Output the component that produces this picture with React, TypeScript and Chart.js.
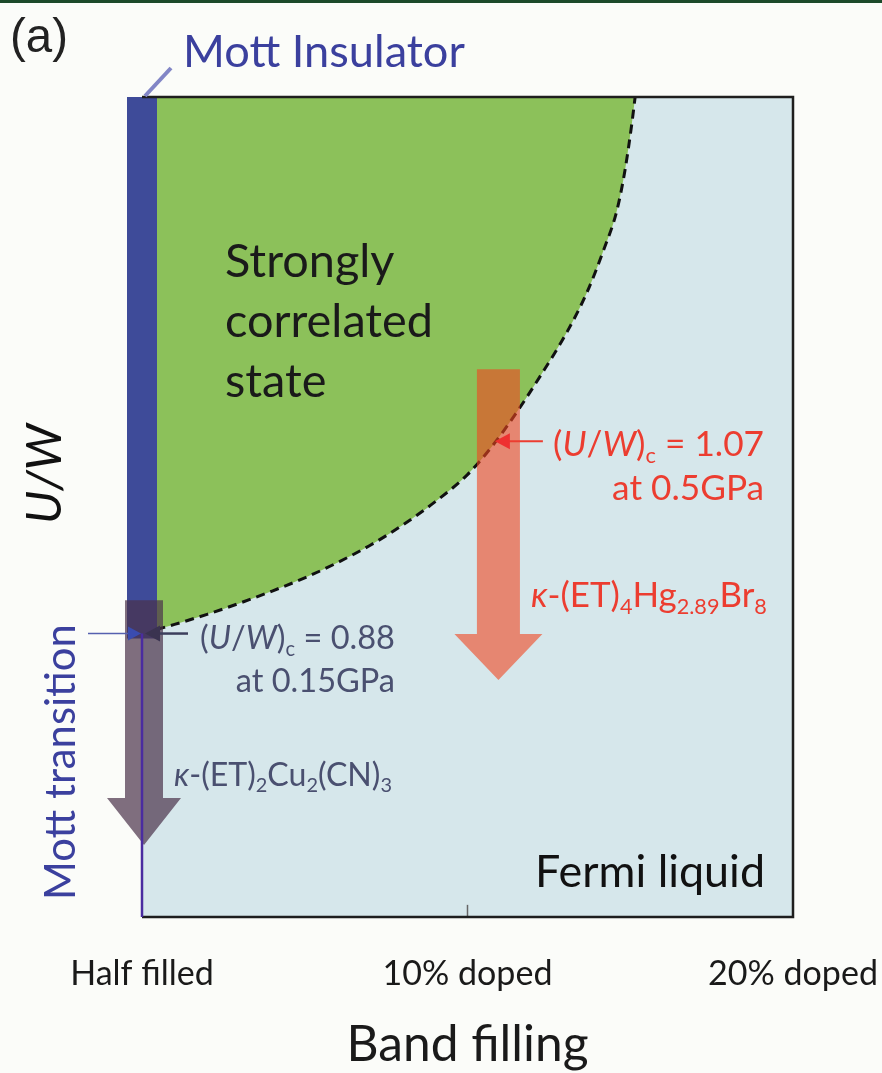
import React, { useEffect, useRef } from 'react';
import { Chart, registerables } from 'chart.js';

Chart.register(...registerables);

// ---------- data ----------
const FILL_TICKS = [0, 10, 20];
const FILL_LABELS = ['Half filled', '10% doped', '20% doped'];
const X_MIN = 0;
const X_MAX = 20;
const Y_MIN = 0.6;
const Y_MAX = 1.41;

// boundary of the strongly-correlated region: band filling (% doped) vs U/W
const BOUNDARY_X = [0, 1, 2, 3, 4, 5, 6, 7, 8, 9, 10, 10.78, 11.52, 12.23, 13.06, 13.67, 14.16, 14.59, 14.84, 15.05, 15.15];
const BOUNDARY_Y = [0.88, 0.889, 0.899, 0.91, 0.922, 0.935, 0.95, 0.967, 0.987, 1.01, 1.037, 1.066, 1.099, 1.134, 1.178, 1.217, 1.257, 1.298, 1.338, 1.384, 1.41];

// Mott insulator band at half filling
const MOTT_BAR_X = [0, 0];
const MOTT_BAR_Y = [0.875, 1.41];

// pressure arrows: x position, top of shaft, tip (U/W)
const ARROW_X = [0, 10.95];
const ARROW_TOP = [0.913, 1.141];
const ARROW_TIP = [0.671, 0.834];

// critical values (U/W)c and where they touch the boundary
const CRIT_UW = [0.88, 1.07];
const CRIT_X = [0, 10.78];

// the single tick at 10% doped
const TICK_X = [10, 10];
const TICK_Y = [0.6, 0.612];

// ---------- styles ----------
const FAM = "Lato, 'Open Sans', 'DejaVu Sans', sans-serif";
const SLATE = '#4a5070';
const RED = '#ec3d30';
const BLUE = '#3b409e';

type Seg = { t: string; it?: boolean; sub?: boolean };

function segFont(s: Seg, size: number) {
  return `${s.it ? 'italic ' : ''}${s.sub ? size * 0.62 : size}px ${FAM}`;
}
function richWidth(ctx: CanvasRenderingContext2D, segs: Seg[], size: number) {
  let w = 0;
  for (const s of segs) {
    ctx.font = segFont(s, size);
    w += ctx.measureText(s.t).width;
  }
  return w;
}
function fitRich(ctx: CanvasRenderingContext2D, segs: Seg[], target: number) {
  return (100 * target) / richWidth(ctx, segs, 100);
}
function drawRich(
  ctx: CanvasRenderingContext2D,
  segs: Seg[],
  x: number,
  baseline: number,
  size: number,
  color: string,
  align: 'left' | 'right' | 'center'
) {
  const w = richWidth(ctx, segs, size);
  let cx = align === 'left' ? x : align === 'right' ? x - w : x - w / 2;
  ctx.fillStyle = color;
  ctx.textAlign = 'left';
  ctx.textBaseline = 'alphabetic';
  for (const s of segs) {
    ctx.font = segFont(s, size);
    ctx.fillText(s.t, cx, s.sub ? baseline + size * 0.2 : baseline);
    cx += ctx.measureText(s.t).width;
  }
}
function drawArrow(
  ctx: CanvasRenderingContext2D,
  cx: number,
  yTop: number,
  yTip: number,
  shaftW: number,
  headW: number,
  headL: number,
  color: string
) {
  ctx.fillStyle = color;
  ctx.beginPath();
  ctx.moveTo(cx - shaftW / 2, yTop);
  ctx.lineTo(cx + shaftW / 2, yTop);
  ctx.lineTo(cx + shaftW / 2, yTip - headL);
  ctx.lineTo(cx + headW / 2, yTip - headL);
  ctx.lineTo(cx, yTip);
  ctx.lineTo(cx - headW / 2, yTip - headL);
  ctx.lineTo(cx - shaftW / 2, yTip - headL);
  ctx.closePath();
  ctx.fill();
}
function triangle(ctx: CanvasRenderingContext2D, tipX: number, y: number, baseX: number, half: number, color: string) {
  ctx.fillStyle = color;
  ctx.beginPath();
  ctx.moveTo(tipX, y);
  ctx.lineTo(baseX, y - half);
  ctx.lineTo(baseX, y + half);
  ctx.closePath();
  ctx.fill();
}

const UC: Seg[] = [{ t: '(' }, { t: 'U', it: true }, { t: '/' }, { t: 'W', it: true }, { t: ')' }, { t: 'c', sub: true }];

const backgroundPlugin = {
  id: 'phaseBackground',
  beforeDatasetsDraw(chart: any) {
    const { ctx, chartArea: ca } = chart;
    ctx.save();
    ctx.fillStyle = '#d6e7eb';
    ctx.fillRect(ca.left, ca.top, ca.right - ca.left, ca.bottom - ca.top);
    ctx.restore();
  },
};

const annotationPlugin = {
  id: 'phaseAnnotations',
  afterDatasetsDraw(chart: any) {
    const { ctx, chartArea: ca, scales } = chart;
    const X = (v: number) => scales.x.getPixelForValue(v);
    const Y = (v: number) => scales.y.getPixelForValue(v);
    ctx.save();

    // frame
    ctx.strokeStyle = '#1e1e1e';
    ctx.lineWidth = 2.5;
    ctx.beginPath();
    ctx.moveTo(ca.left, ca.top);
    ctx.lineTo(ca.right, ca.top);
    ctx.lineTo(ca.right, ca.bottom);
    ctx.lineTo(ca.left, ca.bottom);
    ctx.stroke();

    // leader for "Mott Insulator"
    ctx.strokeStyle = '#8286c6';
    ctx.lineWidth = 4;
    ctx.beginPath();
    ctx.moveTo(X(MOTT_BAR_X[1]) + 3, Y(MOTT_BAR_Y[1]) - 1);
    ctx.lineTo(X(MOTT_BAR_X[1]) + 29, Y(MOTT_BAR_Y[1]) - 29);
    ctx.stroke();

    // pressure arrows
    drawArrow(ctx, X(ARROW_X[0]) + 2, Y(ARROW_TOP[0]), Y(ARROW_TIP[0]), 38, 74, 47, 'rgba(74,50,74,0.7)');
    drawArrow(ctx, X(ARROW_X[1]), Y(ARROW_TOP[1]), Y(ARROW_TIP[1]), 43, 88, 46, 'rgba(240,70,32,0.6)');

    // purple line at half filling below (U/W)c
    const y0 = Y(CRIT_UW[0]);
    ctx.strokeStyle = '#4a2ca0';
    ctx.lineWidth = 2.5;
    ctx.beginPath();
    ctx.moveTo(X(0), y0);
    ctx.lineTo(X(0), ca.bottom);
    ctx.stroke();

    // "Mott transition" pointer from the left
    ctx.strokeStyle = '#5560b0';
    ctx.lineWidth = 1.5;
    ctx.beginPath();
    ctx.moveTo(X(0) - 54, y0);
    ctx.lineTo(X(0) - 12, y0);
    ctx.stroke();
    triangle(ctx, X(0) - 1, y0, X(0) - 14, 7, '#3a4cb0');

    // (U/W)c = 0.88 pointer
    const cx0 = X(CRIT_X[0]);
    ctx.strokeStyle = '#3c3f5c';
    ctx.lineWidth = 2.5;
    ctx.beginPath();
    ctx.moveTo(cx0 + 16, y0);
    ctx.lineTo(cx0 + 46, y0);
    ctx.stroke();
    triangle(ctx, cx0 + 3, y0, cx0 + 18, 8, '#3a3350');

    // (U/W)c = 1.07 pointer
    const y1 = Y(CRIT_UW[1]);
    const cx1 = X(CRIT_X[1]);
    ctx.strokeStyle = RED;
    ctx.lineWidth = 2;
    ctx.beginPath();
    ctx.moveTo(cx1 + 14, y1);
    ctx.lineTo(cx1 + 50, y1);
    ctx.stroke();
    triangle(ctx, cx1 + 2, y1, cx1 + 17, 8, '#ee3030');

    // ---------- texts ----------
    ctx.fillStyle = '#222';
    ctx.textAlign = 'left';
    ctx.textBaseline = 'alphabetic';
    {
      ctx.font = `100px 'Liberation Sans', Arial, sans-serif`;
      const s = (100 * 58) / ctx.measureText('(a)').width;
      ctx.font = `${s}px 'Liberation Sans', Arial, sans-serif`;
      ctx.fillText('(a)', 10, 52);
    }

    {
      const segs: Seg[] = [{ t: 'Mott Insulator' }];
      const s = fitRich(ctx, segs, 282);
      drawRich(ctx, segs, 183, 67, s, BLUE, 'left');
    }

    {
      const s = fitRich(ctx, [{ t: 'correlated' }], 208);
      drawRich(ctx, [{ t: 'Strongly' }], 225, 277, s, '#1a1a1a', 'left');
      drawRich(ctx, [{ t: 'correlated' }], 225, 337, s, '#1a1a1a', 'left');
      drawRich(ctx, [{ t: 'state' }], 225, 397, s, '#1a1a1a', 'left');
    }

    {
      const l1: Seg[] = [...UC, { t: ' = 0.88' }];
      const s = fitRich(ctx, l1, 195);
      drawRich(ctx, l1, 395, 649, s, SLATE, 'right');
      drawRich(ctx, [{ t: 'at 0.15GPa' }], 395, 692, s, SLATE, 'right');
      const l3: Seg[] = [
        { t: 'κ', it: true }, { t: '-(ET)' }, { t: '2', sub: true }, { t: 'Cu' }, { t: '2', sub: true },
        { t: '(CN)' }, { t: '3', sub: true },
      ];
      const s3 = fitRich(ctx, l3, 218);
      drawRich(ctx, l3, 174, 786, s3, SLATE, 'left');
    }

    {
      const l1: Seg[] = [...UC, { t: ' = 1.07' }];
      const s = fitRich(ctx, l1, 211);
      drawRich(ctx, l1, 764, 456, s, RED, 'right');
      drawRich(ctx, [{ t: 'at 0.5GPa' }], 764, 500, s, RED, 'right');
      const l3: Seg[] = [
        { t: 'κ', it: true }, { t: '-(ET)' }, { t: '4', sub: true }, { t: 'Hg' }, { t: '2.89', sub: true },
        { t: 'Br' }, { t: '8', sub: true },
      ];
      const s3 = fitRich(ctx, l3, 236);
      drawRich(ctx, l3, 531, 607, s3, RED, 'left');
    }

    {
      const segs: Seg[] = [{ t: 'Fermi liquid' }];
      const s = fitRich(ctx, segs, 230);
      drawRich(ctx, segs, 765, 887, s, '#111', 'right');
    }

    {
      const segs: Seg[] = [{ t: 'U', it: true }, { t: '/', it: true }, { t: 'W', it: true }];
      const s = fitRich(ctx, segs, 100);
      ctx.save();
      ctx.translate(61, 474);
      ctx.rotate(-Math.PI / 2);
      drawRich(ctx, segs, 0, 0, s, '#111', 'center');
      ctx.restore();
    }

    {
      const segs: Seg[] = [{ t: 'Mott transition' }];
      const s = fitRich(ctx, segs, 276);
      ctx.save();
      ctx.translate(75, 762);
      ctx.rotate(-Math.PI / 2);
      drawRich(ctx, segs, 0, 0, s, BLUE, 'center');
      ctx.restore();
    }

    ctx.restore();
  },
};

export default function App() {
  const ref = useRef<HTMLCanvasElement>(null);

  useEffect(() => {
    const canvas = ref.current!;
    const mctx = canvas.getContext('2d')!;
    const fit = (text: string, target: number) => {
      mctx.font = `100px ${FAM}`;
      return (100 * target) / mctx.measureText(text).width;
    };
    const tickSize = fit('10% doped', 170);
    const titleSize = fit('Band filling', 242);

    const pts = (xs: number[], ys: number[]) => xs.map((x, i) => ({ x, y: ys[i] }));

    const chart = new Chart(canvas, {
      type: 'scatter',
      data: {
        datasets: [
          {
            label: 'tick',
            data: pts(TICK_X, TICK_Y),
            showLine: true,
            borderColor: '#666',
            borderWidth: 1.5,
            pointRadius: 0,
            fill: false,
          },
          {
            label: 'Mott insulator',
            data: pts(MOTT_BAR_X, MOTT_BAR_Y),
            showLine: true,
            borderColor: '#3e4b99',
            borderWidth: 30,
            borderCapStyle: 'butt',
            pointRadius: 0,
            fill: false,
            clip: false,
          },
          {
            label: 'boundary',
            data: pts(BOUNDARY_X, BOUNDARY_Y),
            showLine: true,
            borderColor: '#111',
            borderWidth: 3,
            borderDash: [9, 6],
            backgroundColor: '#8cc15a',
            fill: 'end',
            pointRadius: 0,
            cubicInterpolationMode: 'monotone',
          },
        ],
      } as any,
      options: {
        responsive: false,
        devicePixelRatio: 1,
        animation: false,
        layout: { padding: { left: 142, right: 89, top: 97, bottom: 0 } },
        plugins: { legend: { display: false }, tooltip: { enabled: false } },
        scales: {
          x: {
            type: 'linear',
            min: X_MIN,
            max: X_MAX,
            grid: { display: false },
            border: { display: false },
            afterBuildTicks: (scale: any) => {
              scale.ticks = FILL_TICKS.map((v) => ({ value: v }));
            },
            ticks: {
              callback: (v: any) => {
                const i = FILL_TICKS.indexOf(Number(v));
                return i >= 0 ? FILL_LABELS[i] : '';
              },
              font: { family: FAM, size: tickSize },
              color: '#1a1a1a',
              padding: 29,
              maxRotation: 0,
              autoSkip: false,
            },
            title: {
              display: true,
              text: 'Band filling',
              font: { family: FAM, size: titleSize, lineHeight: 1 },
              color: '#1a1a1a',
              padding: { top: 0, bottom: 3 },
            },
            afterFit: (scale: any) => {
              scale.height = 156;
              scale.paddingLeft = 0;
              scale.paddingRight = 0;
            },
          },
          y: { type: 'linear', min: Y_MIN, max: Y_MAX, display: false },
        },
      } as any,
      plugins: [backgroundPlugin, annotationPlugin],
    });
    return () => chart.destroy();
  }, []);

  return (
    <div style={{ position: 'absolute', left: 0, top: 0, width: 882, height: 1073, background: '#fbfcf9', overflow: 'hidden' }}>
      <canvas ref={ref} width={882} height={1073} style={{ position: 'absolute', left: 0, top: 0, width: 882, height: 1073 }} />
      <div style={{ position: 'absolute', left: 0, top: 0, width: 882, height: 3, background: '#1c4a2a' }} />
    </div>
  );
}
